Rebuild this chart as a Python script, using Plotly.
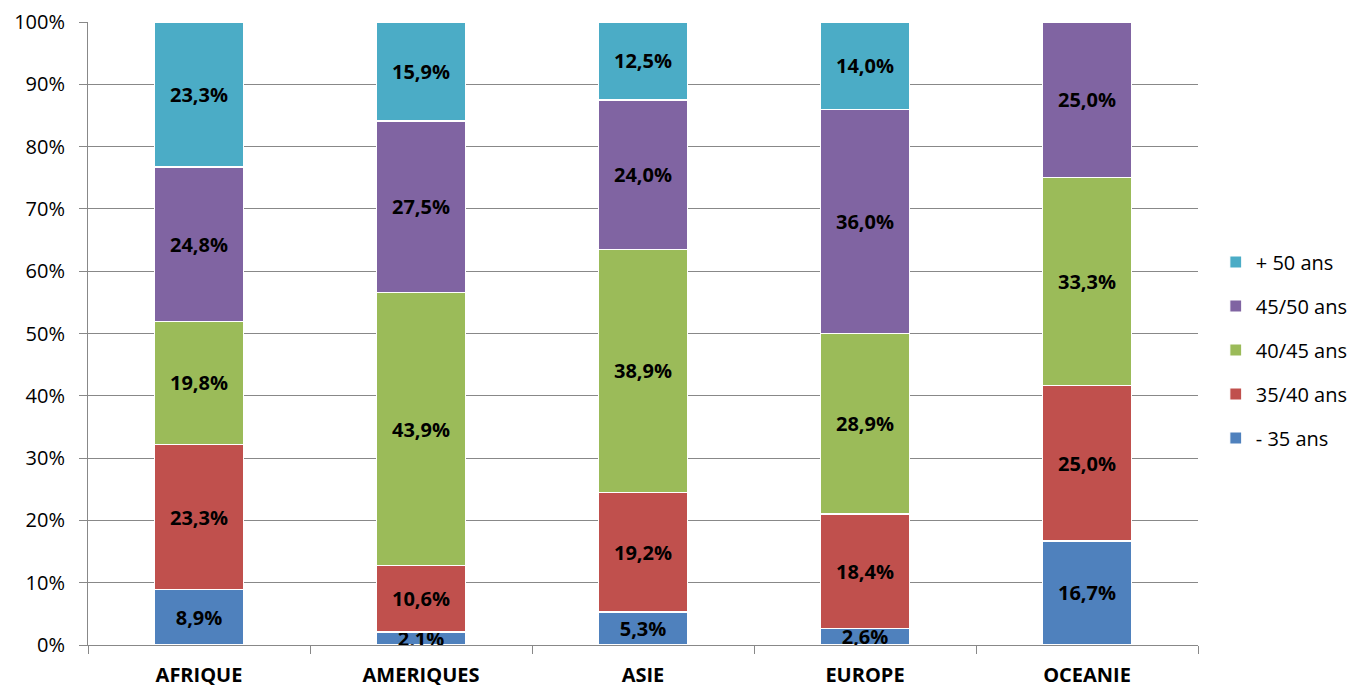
import plotly.graph_objects as go

categories = ["AFRIQUE", "AMERIQUES", "ASIE", "EUROPE", "OCEANIE"]
series_names = ["- 35 ans", "35/40 ans", "40/45 ans", "45/50 ans", "+ 50 ans"]
moins_35 = [8.9, 2.1, 5.3, 2.6, 16.7]
de_35_40 = [23.3, 10.6, 19.2, 18.4, 25.0]
de_40_45 = [19.8, 43.9, 38.9, 28.9, 33.3]
de_45_50 = [24.8, 27.5, 24.0, 36.0, 25.0]
plus_50 = [23.3, 15.9, 12.5, 14.0, 0.0]
y_ticks = [0, 10, 20, 30, 40, 50, 60, 70, 80, 90, 100]
y_tick_labels = [f"{v}%" for v in y_ticks]

colors = ["#4F81BD", "#C0504D", "#9BBB59", "#8064A2", "#4BACC6"]
all_series = [moins_35, de_35_40, de_40_45, de_45_50, plus_50]

FONT = "Open Sans"

fig = go.Figure()
n = len(series_names)
for i, (name, vals) in enumerate(zip(series_names, all_series)):
    txt = [("" if v == 0 else f"{v:.1f}%".replace(".", ",")) for v in vals]
    fig.add_trace(go.Bar(
        x=categories, y=vals, name=name,
        marker=dict(color=colors[i], line=dict(color="#FFFFFF", width=1.2)),
        text=txt, textposition="inside", insidetextanchor="middle",
        textangle=0, constraintext="none",
        textfont=dict(family=FONT, size=20, color="#000000", weight="bold"),
        width=0.4, legendgroup=f"g{n - i}", legendrank=100 * (n - i),
        hoverinfo="skip",
    ))

fig.update_layout(
    barmode="stack", barnorm="percent",
    width=1349, height=680,
    margin=dict(l=80, r=159, t=14, b=43, autoexpand=False),
    paper_bgcolor="white", plot_bgcolor="white",
    font=dict(family=FONT, size=20, color="#000000"),
    showlegend=True,
    legend=dict(traceorder="grouped", x=1.016, xanchor="left", y=0.4735, yanchor="middle",
                font=dict(family=FONT, size=20), tracegroupgap=15,
                itemwidth=30),
)
fig.update_xaxes(
    showline=True, linecolor="#888888", linewidth=1,
    ticks="outside", tickson="boundaries", ticklen=8, tickcolor="#888888",
    tickfont=dict(family=FONT, size=20, weight="bold"),
    ticklabelstandoff=12,
    showgrid=False, automargin=False,
)
fig.update_yaxes(
    range=[0, 100], tickvals=y_ticks, ticktext=y_tick_labels,
    showline=True, linecolor="#888888", linewidth=1,
    ticks="outside", ticklen=8, tickcolor="#888888",
    showgrid=True, gridcolor="#888888", gridwidth=1,
    tickfont=dict(family=FONT, size=20),
    ticklabelstandoff=10,
    zeroline=False, automargin=False,
)
fig.write_html("out.html")
